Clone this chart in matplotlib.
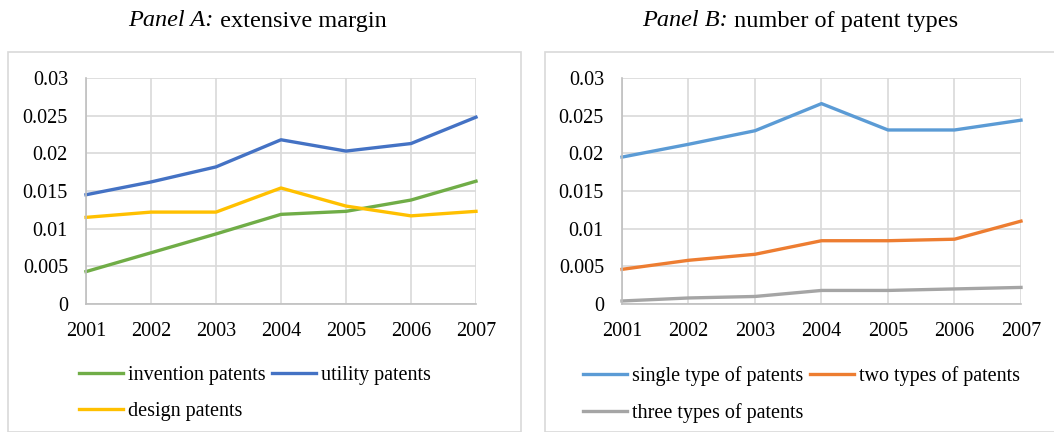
import matplotlib
matplotlib.use('Agg')
import matplotlib.pyplot as plt
from matplotlib.patches import Rectangle

# data
years = [2001, 2002, 2003, 2004, 2005, 2006, 2007]
invention = [0.0043, 0.0068, 0.0093, 0.0119, 0.0123, 0.0138, 0.0163]
utility = [0.0145, 0.0162, 0.0182, 0.0218, 0.0203, 0.0213, 0.0248]
design = [0.0115, 0.0122, 0.0122, 0.0154, 0.0130, 0.0117, 0.0123]

single_type = [0.0195, 0.0212, 0.0230, 0.0266, 0.0231, 0.0231, 0.0244]
two_types = [0.0046, 0.0058, 0.0066, 0.0084, 0.0084, 0.0086, 0.0110]
three_types = [0.0004, 0.0008, 0.0010, 0.0018, 0.0018, 0.0020, 0.0022]

yticks = [0, 0.005, 0.01, 0.015, 0.02, 0.025, 0.03]
ytick_labels = ['0', '0.005', '0.01', '0.015', '0.02', '0.025', '0.03']

plt.rcParams['font.family'] = ['Liberation Serif', 'DejaVu Serif']

W, H = 1054, 432
fig = plt.figure(figsize=(W / 100, H / 100), dpi=100)


def px_axes(left, top, right, bottom):
    return fig.add_axes([left / W, 1 - bottom / H, (right - left) / W, (bottom - top) / H])


def style_axes(ax):
    ax.set_xlim(2001, 2007)
    ax.set_ylim(0, 0.03)
    ax.set_xticks(years)
    ax.set_xticklabels([str(y) for y in years])
    ax.set_yticks(yticks)
    ax.set_yticklabels(ytick_labels)
    ax.grid(True, color='#d9d9d9', linewidth=1.2)
    ax.set_axisbelow(True)
    for s in ['top', 'right']:
        ax.spines[s].set_visible(False)
    for s in ['left', 'bottom']:
        ax.spines[s].set_color('#bfbfbf')
        ax.spines[s].set_linewidth(1.2)
    ax.tick_params(length=0, labelsize=14.5, colors='#000000')
    ax.tick_params(axis='y', pad=13)
    ax.tick_params(axis='x', pad=13)


def title(x_split, italic_part, rest):
    fig.text(x_split / W, 1 - 21 / H, italic_part, fontsize=17.5, fontstyle='italic',
             ha='right', va='center')
    fig.text(x_split / W, 1 - 21 / H, ' ' + rest, fontsize=17.5, ha='left', va='center')


def legend(handles, labels, left):
    fig.legend(handles, labels, ncol=2, loc='upper left',
               bbox_to_anchor=(left / W, 1 - 366 / H),
               frameon=False, fontsize=14.5, handlelength=2.2, handletextpad=0.25,
               columnspacing=0.3, borderpad=0, borderaxespad=0, labelspacing=0.85)


# outer boxes
fig.patches.append(Rectangle((8 / W, 0), 513 / W, 1 - 52 / H, transform=fig.transFigure,
                             fill=False, edgecolor='#d9d9d9', linewidth=1.2))
fig.patches.append(Rectangle((545 / W, 0), 520 / W, 1 - 52 / H, transform=fig.transFigure,
                             fill=False, edgecolor='#d9d9d9', linewidth=1.2))

lw = 2.4

# Panel A
axA = px_axes(86, 78, 476, 304)
style_axes(axA)
la1, = axA.plot(years, invention, color='#70ad47', lw=lw, clip_on=False)
la2, = axA.plot(years, utility, color='#4472c4', lw=lw, clip_on=False)
la3, = axA.plot(years, design, color='#ffc000', lw=lw, clip_on=False)
title(214, 'Panel A:', 'extensive margin')
legend([la1, la3, la2], ['invention patents', 'design patents', 'utility patents'], 79)

# Panel B
axB = px_axes(622, 78, 1021, 304)
style_axes(axB)
lb1, = axB.plot(years, single_type, color='#5b9bd5', lw=lw, clip_on=False)
lb2, = axB.plot(years, two_types, color='#ed7d31', lw=lw, clip_on=False)
lb3, = axB.plot(years, three_types, color='#a5a5a5', lw=lw, clip_on=False)
title(728, 'Panel B:', 'number of patent types')
legend([lb1, lb3, lb2], ['single type of patents', 'three types of patents', 'two types of patents'], 583)

fig.savefig('out.png', dpi=100)
